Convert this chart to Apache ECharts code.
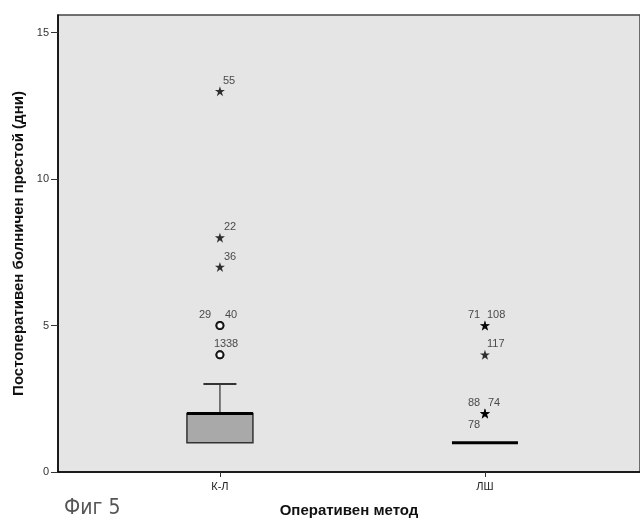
<!DOCTYPE html>
<html>
<head>
<meta charset="utf-8">
<title>Фиг 5</title>
<script src="https://cdn.jsdelivr.net/npm/echarts@6/dist/echarts.min.js"></script>
<style>
  html, body { margin: 0; padding: 0; background: #fff; }
  #chart { width: 640px; height: 523px; }
</style>
</head>
<body>
<div id="chart"></div>
<script>
// categories on the x axis
var categories = ['К-Л', 'ЛШ'];
// min, Q1, median, Q3, max for each group
var boxStats = [
  [1, 1, 2, 2, 3],
  [1, 1, 1, 1, 1]
];
// outliers (circles): group index, value, case id
var outlierCases = [
  [0, 5, '29'], [0, 5, '40'],
  [0, 4, '13'], [0, 4, '38']
];
// extreme values (stars): group index, value, case id
var extremeCases = [
  [0, 13, '55'], [0, 8, '22'], [0, 7, '36'],
  [1, 5, '71'], [1, 5, '108'], [1, 4, '117'],
  [1, 2, '88'], [1, 2, '74'], [1, 2, '78']
];
var yTicks = [0, 5, 10, 15];

// label placement around the mark (px), SPSS style
var labelOffsets = {
  '55': [3, -10], '22': [4, -11], '36': [4, -10],
  '29': [-21, -11], '40': [5, -11], '13': [-6, -11], '38': [6, -11],
  '71': [-17, -11], '108': [2, -11], '117': [2, -11],
  '88': [-17, -10], '74': [3, -10], '78': [-17, 12]
};

var starPath = 'path://M50,0 L61.8,35.4 L100,35.4 L69.1,57.3 L80.9,95 L50,72.4 L19.1,95 L30.9,57.3 L0,35.4 L38.2,35.4 Z';

var chart = echarts.init(document.getElementById('chart'));

function caseData(list) {
  return list.map(function (c) {
    var off = labelOffsets[c[2]] || [4, -10];
    return {
      value: [c[0] + 1, c[1]],
      name: c[2],
      label: { offset: off }
    };
  });
}

var caseLabel = {
  show: true,
  position: 'inside',
  align: 'left',
  verticalAlign: 'middle',
  formatter: '{b}',
  fontFamily: 'Liberation Sans, Arial, sans-serif',
  fontSize: 11,
  color: '#222'
};

var option = {
  backgroundColor: '#fff',
  animation: false,
  grid: {
    left: 58,
    top: 15,
    width: 589,
    height: 458,
    show: true,
    backgroundColor: '#e5e5e5',
    borderColor: '#444',
    borderWidth: 1.5
  },
  xAxis: {
    type: 'value',
    min: 0.389,
    max: 2.585,
    name: 'Оперативен метод',
    nameLocation: 'middle',
    nameGap: 31,
    nameTextStyle: {
      fontFamily: 'Liberation Sans, Arial, sans-serif',
      fontWeight: 'bold',
      fontSize: 15,
      color: '#111'
    },
    axisLine: { show: true, lineStyle: { color: '#000', width: 1.5 } },
    axisTick: {
      show: true,
      length: 5,
      customValues: [1, 2],
      lineStyle: { color: '#333' }
    },
    axisLabel: {
      customValues: [1, 2],
      margin: 9,
      fontFamily: 'Liberation Sans, Arial, sans-serif',
      fontSize: 11,
      color: '#222',
      formatter: function (v) {
        return categories[Math.round(v) - 1] || '';
      }
    },
    splitLine: { show: false }
  },
  yAxis: {
    type: 'value',
    min: 0,
    max: 15.6,
    name: 'Постоперативен болничен престой (дни)',
    nameLocation: 'middle',
    nameGap: 30,
    nameTextStyle: {
      fontFamily: 'Liberation Sans, Arial, sans-serif',
      fontWeight: 'bold',
      fontSize: 15,
      color: '#111'
    },
    axisLine: { show: true, lineStyle: { color: '#000', width: 1.5 } },
    axisTick: {
      show: true,
      length: 7,
      customValues: yTicks,
      lineStyle: { color: '#333' }
    },
    axisLabel: {
      customValues: yTicks,
      margin: 9,
      fontFamily: 'Liberation Sans, Arial, sans-serif',
      fontSize: 11,
      color: '#333'
    },
    splitLine: { show: false }
  },
  graphic: [{
    type: 'text',
    left: 64,
    top: 498,
    style: {
      text: 'Фиг 5',
      font: '21px "Liberation Sans Narrow", "DejaVu Sans Condensed", sans-serif',
      fill: '#555'
    }
  }],
  series: [{
    type: 'custom',
    name: 'box',
    data: boxStats.map(function (s, i) { return [i + 1].concat(s); }),
    encode: { x: 0, y: [1, 2, 3, 4, 5] },
    renderItem: function (params, api) {
      var x = api.value(0);
      var pMin = api.coord([x, api.value(1)]);
      var pQ1 = api.coord([x, api.value(2)]);
      var pMed = api.coord([x, api.value(3)]);
      var pQ3 = api.coord([x, api.value(4)]);
      var pMax = api.coord([x, api.value(5)]);
      var w = 66;
      var cx = pMed[0];
      var children = [];
      if (pMax[1] < pQ3[1]) {
        children.push({
          type: 'line',
          shape: { x1: cx, y1: pQ3[1], x2: cx, y2: pMax[1] },
          style: { stroke: '#555', lineWidth: 1.5 }
        });
        children.push({
          type: 'line',
          shape: { x1: cx - w / 4, y1: pMax[1], x2: cx + w / 4, y2: pMax[1] },
          style: { stroke: '#333', lineWidth: 2 }
        });
      }
      if (pMin[1] > pQ1[1]) {
        children.push({
          type: 'line',
          shape: { x1: cx, y1: pQ1[1], x2: cx, y2: pMin[1] },
          style: { stroke: '#555', lineWidth: 1.5 }
        });
        children.push({
          type: 'line',
          shape: { x1: cx - w / 4, y1: pMin[1], x2: cx + w / 4, y2: pMin[1] },
          style: { stroke: '#333', lineWidth: 2 }
        });
      }
      if (pQ1[1] > pQ3[1]) {
        children.push({
          type: 'rect',
          shape: { x: cx - w / 2, y: pQ3[1], width: w, height: pQ1[1] - pQ3[1] },
          style: { fill: '#a9a9a9', stroke: '#333', lineWidth: 1.5 }
        });
      }
      children.push({
        type: 'line',
        shape: { x1: cx - w / 2, y1: pMed[1], x2: cx + w / 2, y2: pMed[1] },
        style: { stroke: '#000', lineWidth: 3 }
      });
      return { type: 'group', children: children };
    },
    z: 2
  }, {
    type: 'scatter',
    name: 'outliers',
    symbol: 'emptyCircle',
    symbolSize: 7,
    itemStyle: { color: '#000', borderColor: '#000', borderWidth: 1.8 },
    label: caseLabel,
    data: caseData(outlierCases),
    z: 3
  }, {
    type: 'scatter',
    name: 'extremes',
    symbol: starPath,
    symbolSize: 10,
    itemStyle: { color: '#000' },
    label: caseLabel,
    data: caseData(extremeCases),
    z: 3
  }]
};

chart.setOption(option);
</script>
</body>
</html>
